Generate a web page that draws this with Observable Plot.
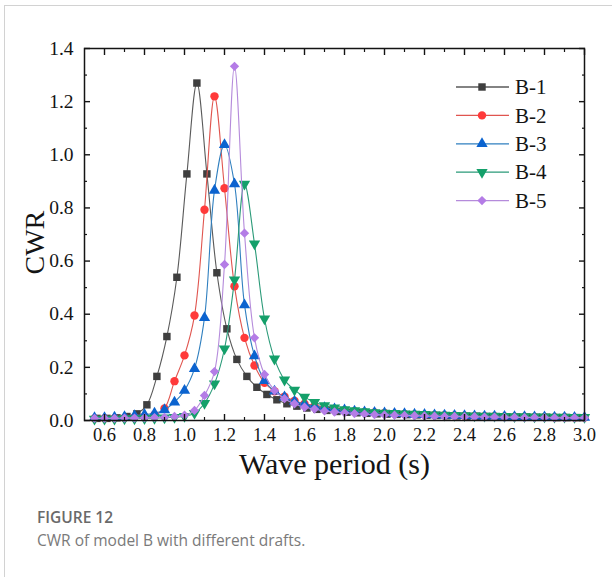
<!DOCTYPE html>
<html>
<head>
<meta charset="utf-8">
<script src="https://cdn.jsdelivr.net/npm/d3@7"></script>
<script src="https://cdn.jsdelivr.net/npm/@observablehq/plot@0.6"></script>
<style>
  html, body { margin: 0; padding: 0; background: #fff; }
  #page { position: relative; width: 612px; height: 577px; overflow: hidden; background: #fff; }
  #card { position: absolute; left: 4px; top: 5px; right: -4px; bottom: -4px;
          border-left: 1.5px solid #d2d2d2; border-top: 1.5px solid #d2d2d2; }
  #chart { position: absolute; left: 0; top: 0; }
  #legend { position: absolute; left: 0; top: 0; }
  .fig-label { position: absolute; left: 37px; top: 506px; font: 600 15.5px "Open Sans", sans-serif; color: #6a6a6a; }
  .fig-caption { position: absolute; left: 37px; top: 529px; font: 400 15.5px "Open Sans", sans-serif; color: #7a7a7a; }
</style>
</head>
<body>
<div id="page">
  <div id="card"></div>
  <div id="chart"></div>
  <svg id="legend" width="612" height="260"></svg>
  <div class="fig-label">FIGURE 12</div>
  <div class="fig-caption">CWR of model B with different drafts.</div>
</div>
<script>
// Wave periods (s) of the test runs
const periods = [
  0.55, 0.60, 0.65, 0.70, 0.75, 0.80, 0.85, 0.90, 0.95, 1.00,
  1.05, 1.10, 1.15, 1.20, 1.25, 1.30, 1.35, 1.40, 1.45, 1.50,
  1.55, 1.60, 1.65, 1.70, 1.75, 1.80, 1.85, 1.90, 1.95, 2.00,
  2.05, 2.10, 2.15, 2.20, 2.25, 2.30, 2.35, 2.40, 2.45, 2.50,
  2.55, 2.60, 2.65, 2.70, 2.75, 2.80, 2.85, 2.90, 2.95, 3.00
];
// B-1 was run on a slightly shifted period set
const periodsB1 = [
  0.562, 0.612, 0.662, 0.712, 0.762, 0.812, 0.862, 0.912, 0.962, 1.012,
  1.062, 1.112, 1.162, 1.212, 1.262, 1.312, 1.362, 1.412, 1.462, 1.512,
  1.562, 1.612, 1.662, 1.712, 1.762, 1.812, 1.862, 1.912, 1.962, 2.012,
  2.062, 2.112, 2.162, 2.212, 2.262, 2.312, 2.362, 2.412, 2.462, 2.512,
  2.562, 2.612, 2.662, 2.712, 2.762, 2.812, 2.862, 2.912, 2.962
];

// Capture width ratio for each draft
const cwrB1 = [
  0.008, 0.008, 0.010, 0.015, 0.025, 0.059, 0.166, 0.316, 0.539, 0.928,
  1.270, 0.928, 0.556, 0.345, 0.230, 0.166, 0.125, 0.098, 0.078, 0.063,
  0.054, 0.047, 0.042, 0.038, 0.034, 0.031, 0.029, 0.027, 0.025, 0.024,
  0.023, 0.022, 0.021, 0.020, 0.019, 0.018, 0.017, 0.016, 0.016, 0.015,
  0.014, 0.014, 0.013, 0.013, 0.012, 0.012, 0.011, 0.011, 0.011
];
const cwrB2 = [
  0.008, 0.008, 0.009, 0.010, 0.012, 0.015, 0.022, 0.045, 0.148, 0.245,
  0.395, 0.793, 1.220, 0.874, 0.505, 0.311, 0.207, 0.142, 0.110, 0.090,
  0.074, 0.063, 0.055, 0.048, 0.043, 0.039, 0.035, 0.032, 0.030, 0.028,
  0.026, 0.025, 0.023, 0.022, 0.021, 0.020, 0.019, 0.018, 0.017, 0.016,
  0.016, 0.015, 0.014, 0.014, 0.013, 0.013, 0.012, 0.012, 0.011, 0.011
];
const cwrB3 = [
  0.010, 0.010, 0.012, 0.014, 0.018, 0.022, 0.027, 0.040, 0.069, 0.113,
  0.195, 0.387, 0.866, 1.038, 0.890, 0.435, 0.243, 0.150, 0.110, 0.088,
  0.072, 0.062, 0.054, 0.048, 0.043, 0.039, 0.035, 0.032, 0.030, 0.028,
  0.026, 0.025, 0.023, 0.022, 0.021, 0.020, 0.019, 0.018, 0.017, 0.016,
  0.016, 0.015, 0.014, 0.014, 0.013, 0.013, 0.012, 0.012, 0.011, 0.011
];
const cwrB4 = [
  0.006, 0.006, 0.006, 0.007, 0.007, 0.008, 0.009, 0.010, 0.012, 0.016,
  0.027, 0.065, 0.138, 0.270, 0.530, 0.890, 0.665, 0.383, 0.232, 0.153,
  0.115, 0.088, 0.069, 0.056, 0.048, 0.041, 0.038, 0.034, 0.030, 0.028,
  0.027, 0.025, 0.024, 0.023, 0.022, 0.021, 0.020, 0.019, 0.018, 0.017,
  0.017, 0.016, 0.015, 0.015, 0.014, 0.014, 0.013, 0.013, 0.012, 0.012
];
const cwrB5 = [
  0.008, 0.008, 0.008, 0.009, 0.009, 0.010, 0.011, 0.012, 0.015, 0.020,
  0.038, 0.094, 0.184, 0.587, 1.333, 0.705, 0.311, 0.173, 0.113, 0.082,
  0.063, 0.050, 0.043, 0.036, 0.032, 0.029, 0.026, 0.024, 0.022, 0.021,
  0.020, 0.019, 0.018, 0.017, 0.016, 0.015, 0.015, 0.014, 0.014, 0.013,
  0.013, 0.012, 0.012, 0.011, 0.011, 0.011, 0.010, 0.010, 0.010, 0.010
];

const seriesNames = ["B-1", "B-2", "B-3", "B-4", "B-5"];

// Axis ticks
const xTicks = [0.6, 0.8, 1.0, 1.2, 1.4, 1.6, 1.8, 2.0, 2.2, 2.4, 2.6, 2.8, 3.0];
const xMinorTicks = [0.7, 0.9, 1.1, 1.3, 1.5, 1.7, 1.9, 2.1, 2.3, 2.5, 2.7, 2.9];
const yTicks = [0.0, 0.2, 0.4, 0.6, 0.8, 1.0, 1.2, 1.4];
const yMinorTicks = [0.1, 0.3, 0.5, 0.7, 0.9, 1.1, 1.3];

const serif = '"Liberation Serif", "Times New Roman", serif';
const ink = "#141414";

const series = [
  {name: seriesNames[0], t: periodsB1, v: cwrB1, line: "#5a5a5a", fill: "#3f3f3f", symbol: "square",   d3sym: d3.symbolSquare,   rotate: 0},
  {name: seriesNames[1], t: periods,   v: cwrB2, line: "#e0554f", fill: "#ff3a3a", symbol: "circle",   d3sym: d3.symbolCircle,   rotate: 0},
  {name: seriesNames[2], t: periods,   v: cwrB3, line: "#2f7fbf", fill: "#0b63cf", symbol: "triangle", d3sym: d3.symbolTriangle, rotate: 0},
  {name: seriesNames[3], t: periods,   v: cwrB4, line: "#2a9a78", fill: "#14a06a", symbol: "triangle", d3sym: d3.symbolTriangle, rotate: 180},
  {name: seriesNames[4], t: periods,   v: cwrB5, line: "#b58bdb", fill: "#b47ce6", symbol: "diamond2", d3sym: d3.symbolDiamond2, rotate: 0}
];

const R = 4.2;

const seriesMarks = series.flatMap(s => {
  const rows = s.t.map((t, i) => ({period: t, cwr: s.v[i], series: s.name}));
  return [
    Plot.line(rows, {x: "period", y: "cwr", stroke: s.line, strokeWidth: 1.1, curve: "catmull-rom"}),
    Plot.dot(rows, {x: "period", y: "cwr", symbol: s.symbol, r: R, fill: s.fill, stroke: "none", rotate: s.rotate})
  ];
});

const chart = Plot.plot({
  width: 612,
  height: 480,
  marginLeft: 84,
  marginRight: 28,
  marginTop: 48,
  marginBottom: 60,
  style: {fontFamily: serif, color: ink, background: "transparent"},
  x: {domain: [0.5, 3.0]},
  y: {domain: [0, 1.4]},
  marks: [
    ...seriesMarks,
    Plot.frame({stroke: ink, strokeWidth: 1.5}),
    // inward ticks on all four sides
    Plot.axisX(xTicks, {anchor: "bottom", tickSize: -6, fill: "none", strokeWidth: 1.4, label: null}),
    Plot.axisX(xMinorTicks, {anchor: "bottom", tickSize: -3, fill: "none", strokeWidth: 1.2, label: null}),
    Plot.axisX(xTicks, {anchor: "top", tickSize: -6, fill: "none", strokeWidth: 1.4, label: null}),
    Plot.axisX(xMinorTicks, {anchor: "top", tickSize: -3, fill: "none", strokeWidth: 1.2, label: null}),
    Plot.axisY(yTicks, {anchor: "left", tickSize: -6, fill: "none", strokeWidth: 1.4, label: null}),
    Plot.axisY(yMinorTicks, {anchor: "left", tickSize: -3, fill: "none", strokeWidth: 1.2, label: null}),
    Plot.axisY(yTicks, {anchor: "right", tickSize: -6, fill: "none", strokeWidth: 1.4, label: null}),
    Plot.axisY(yMinorTicks, {anchor: "right", tickSize: -3, fill: "none", strokeWidth: 1.2, label: null}),
    // tick labels
    Plot.axisX(xTicks, {anchor: "bottom", tickSize: 0, tickPadding: 7, tickFormat: d3.format(".1f"), fontSize: 18.5, fontFamily: serif, fill: ink, label: null}),
    Plot.axisY(yTicks, {anchor: "left", tickSize: 0, tickPadding: 11, tickFormat: d3.format(".1f"), fontSize: 19.5, fontFamily: serif, fill: ink, label: null}),
    // axis titles
    Plot.text(["Wave period (s)"], {frameAnchor: "bottom", dy: 53, fontSize: 30, fontFamily: serif, fill: ink}),
    Plot.text(["CWR"], {frameAnchor: "left", dx: -49, dy: 40, rotate: -90, fontSize: 28, fontFamily: serif, fill: ink})
  ]
});
document.getElementById("chart").appendChild(chart);

// Legend (upper right of the plot)
const legend = d3.select("#legend");
const rowY0 = 87, rowStep = 28.4;
series.forEach((s, i) => {
  const y = rowY0 + i * rowStep;
  legend.append("line").attr("x1", 456).attr("x2", 509).attr("y1", y).attr("y2", y)
    .attr("stroke", s.line).attr("stroke-width", 1.3);
  legend.append("path")
    .attr("d", d3.symbol().type(s.d3sym).size(R * R * Math.PI)())
    .attr("transform", `translate(482,${y}) rotate(${s.rotate})`)
    .attr("fill", s.fill);
  legend.append("text").attr("x", 515).attr("y", y).attr("dy", "0.34em")
    .attr("font-family", serif).attr("font-size", 21).attr("fill", ink)
    .text(s.name);
});
</script>
</body>
</html>
